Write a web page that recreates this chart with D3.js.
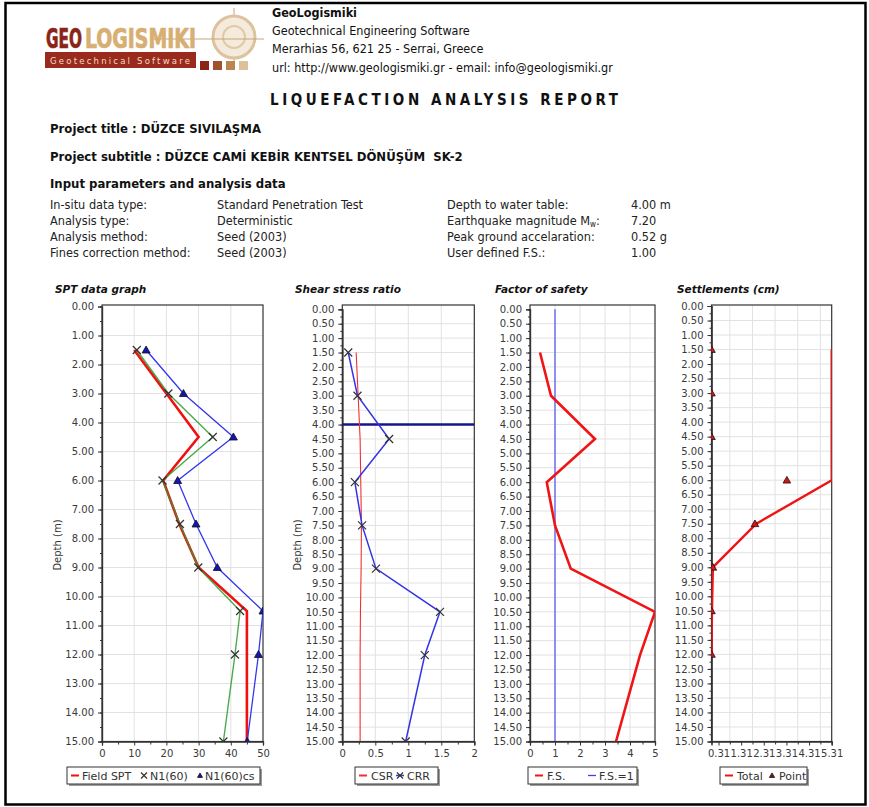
<!DOCTYPE html>
<html>
<head>
<meta charset="utf-8">
<script src="https://cdn.jsdelivr.net/npm/d3@7"></script>
<style>
  html, body { margin: 0; padding: 0; background: #fff; }
  svg { display: block; }
  .tick text { font-family: "DejaVu Sans", Verdana, sans-serif; }
</style>
</head>
<body>
<svg id="page" width="869" height="807"></svg>
<script>
// ---- Borehole SK-2 data ----
const depths = [1.5, 3.0, 4.5, 6.0, 7.5, 9.0, 10.5, 12.0, 15.0];
const fieldSPT = [10, 20, 30, 19, 24, 30, 45, 45, 45];
const n160 = [10.8, 20.6, 34.4, 18.8, 24.2, 29.9, 42.9, 41.3, 37.7];
const n160cs = [13.7, 25.3, 40.8, 23.5, 29.2, 35.8, 50, 48.6, 45.1];

const csr = [0.21, 0.24, 0.27, 0.28, 0.29, 0.285, 0.275, 0.27, 0.27];
const crr = [0.09, 0.23, 0.71, 0.19, 0.30, 0.51, 1.48, 1.25, 0.96];
const waterTable = 4.0;

const factorOfSafety = [0.40, 0.84, 2.60, 0.67, 1.00, 1.63, 5.00, 4.40, 3.44];
const userFS = 1.0;

const settleDepths = [1.5, 3.0, 4.5, 6.0, 7.5, 9.0, 10.5, 12.0];
const settlePoint = [0.0, 0.0, 0.0, 3.33, 1.92, 0.06, 0.0, 0.0];
const settleTotal = [5.31, 5.31, 5.31, 5.31, 1.98, 0.06, 0.02, 0.0];

const sptTicks = [0, 10, 20, 30, 40, 50];
const ratioTicks = [0, 0.5, 1, 1.5, 2];
const fsTicks = [0, 1, 2, 3, 4, 5];
const settleTicks = [0.31, 1.31, 2.31, 3.31, 4.31, 5.31];
const settleGrid = [0.81, 1.81, 2.81, 3.81, 4.81];

const infoLeft = [
  ["In-situ data type:", "Standard Penetration Test"],
  ["Analysis type:", "Deterministic"],
  ["Analysis method:", "Seed (2003)"],
  ["Fines correction method:", "Seed (2003)"]
];
const infoRight = [
  ["Depth to water table:", "4.00 m"],
  ["Earthquake magnitude M", "7.20"],
  ["Peak ground accelaration:", "0.52 g"],
  ["User defined F.S.:", "1.00"]
];

const svg = d3.select("#page");
const FONT = "'DejaVu Sans Condensed', 'DejaVu Sans', sans-serif";
const AXFONT = "'DejaVu Sans', Verdana, sans-serif";

svg.append("rect").attr("width", 869).attr("height", 807).attr("fill", "#fff");
svg.append("rect").attr("x", 5.5).attr("y", 3).attr("width", 860).attr("height", 801.5)
  .attr("fill", "none").attr("stroke", "#000").attr("stroke-width", 2.5);

// ---- Logo ----
const logo = svg.append("g");
logo.append("line").attr("x1", 234).attr("x2", 234).attr("y1", 8).attr("y2", 62)
  .attr("stroke", "#d2b48c").attr("stroke-width", 1.2);
logo.append("circle").attr("cx", 234).attr("cy", 37).attr("r", 21)
  .attr("fill", "#f5ebdc").attr("stroke", "#dcc29e").attr("stroke-width", 3);
logo.append("circle").attr("cx", 234).attr("cy", 37).attr("r", 11)
  .attr("fill", "none").attr("stroke", "#e0c9a8").attr("stroke-width", 2);
logo.append("line").attr("x1", 150).attr("x2", 264).attr("y1", 39).attr("y2", 39)
  .attr("stroke", "#c9a577").attr("stroke-width", 1.2);

// condensed block lettering: squeeze each word horizontally to its slot
function squeezed(word, x, width, color) {
  const g = logo.append("g");
  const t = g.append("text").attr("x", 0).attr("y", 0).text(word)
    .attr("font-family", FONT).attr("font-weight", "bold").attr("font-size", 26)
    .attr("fill", color).attr("stroke", color).attr("stroke-width", 0.7);
  const w = t.node().getComputedTextLength() || width;
  g.attr("transform", `translate(${x},48) scale(${width / w},1)`);
}
squeezed("GEO", 46, 36, "#8b2418");
squeezed("LOGISMIKI", 85, 111, "#d8ae72");

logo.append("rect").attr("x", 45).attr("y", 52).attr("width", 151).attr("height", 16).attr("fill", "#9a2a1b");
logo.append("text").attr("x", 50).attr("y", 64).text("Geotechnical Software")
  .attr("font-family", FONT).attr("font-size", 9.5).attr("fill", "#f2dcc6")
  .attr("textLength", 140).attr("lengthAdjust", "spacing");
["#8b2418", "#a0522d", "#b98552", "#dcc19a"].forEach((c, i) => {
  logo.append("rect").attr("x", 200 + i * 13).attr("y", 61).attr("width", 9).attr("height", 9).attr("fill", c);
});

// ---- Company header ----
const head = [
  ["GeoLogismiki", 17, "bold"],
  ["Geotechnical Engineering Software", 35, "normal"],
  ["Merarhias 56, 621 25 - Serrai, Greece", 53, "normal"],
  ["url: http://www.geologismiki.gr - email: info@geologismiki.gr", 72, "normal"]
];
head.forEach(([t, y, w]) => {
  svg.append("text").attr("x", 272).attr("y", y).text(t)
    .attr("font-family", FONT).attr("font-size", 12.5).attr("font-weight", w).attr("fill", "#111");
});
svg.append("text").attr("x", 270).attr("y", 105).text("LIQUEFACTION ANALYSIS REPORT")
  .attr("font-family", FONT).attr("font-size", 15).attr("font-weight", "bold").attr("fill", "#111")
  .attr("textLength", 348).attr("lengthAdjust", "spacing");

// ---- Project block ----
const bold = (t, y) => svg.append("text").attr("x", 50).attr("y", y).text(t)
  .attr("font-family", FONT).attr("font-size", 13).attr("font-weight", "bold").attr("fill", "#111");
bold("Project title : DÜZCE SIVILAŞMA", 133);
bold("Project subtitle : DÜZCE CAMİ KEBİR KENTSEL DÖNÜŞÜM  SK-2", 161).style("white-space", "pre");
bold("Input parameters and analysis data", 188);

const rowY = [209, 225, 241, 257];
infoLeft.forEach(([a, b], i) => {
  svg.append("text").attr("x", 50).attr("y", rowY[i]).text(a)
    .attr("font-family", FONT).attr("font-size", 12.6).attr("fill", "#222");
  svg.append("text").attr("x", 217).attr("y", rowY[i]).text(b)
    .attr("font-family", FONT).attr("font-size", 12.6).attr("fill", "#222");
});
infoRight.forEach(([a, b], i) => {
  const t = svg.append("text").attr("x", 447).attr("y", rowY[i])
    .attr("font-family", FONT).attr("font-size", 12.6).attr("fill", "#222");
  t.append("tspan").text(a);
  if (i === 1) {
    t.append("tspan").text("w").attr("font-size", 8).attr("dy", 2);
    t.append("tspan").text(":").attr("dy", -2);
  }
  svg.append("text").attr("x", 631).attr("y", rowY[i]).text(b)
    .attr("font-family", FONT).attr("font-size", 12.6).attr("fill", "#222");
});

// ---- Generic depth chart ----
function depthChart(o) {
  const g = svg.append("g");
  const x = d3.scaleLinear().domain(o.xDomain).range([o.left, o.right]);
  const y = d3.scaleLinear().domain([0, 15]).range([o.zeroY, 741.5]);
  const top = 305, bottom = 741.5;
  const clipId = "clip-" + o.id;
  g.append("clipPath").attr("id", clipId).append("rect")
    .attr("x", o.left).attr("y", top).attr("width", o.right - o.left).attr("height", bottom - top);

  g.append("text").attr("x", o.titleX).attr("y", 293).text(o.title)
    .attr("font-family", AXFONT).attr("font-size", 10.5).attr("font-weight", "bold")
    .attr("font-style", "italic").attr("fill", "#111");

  // grid
  const yMajor = d3.range(0, 15 + 1e-9, o.yStep);
  g.append("g").selectAll("line").data(yMajor.filter(d => d > 0 && d < 15)).join("line")
    .attr("x1", o.left).attr("x2", o.right).attr("y1", d => y(d)).attr("y2", d => y(d))
    .attr("stroke", "#e2e2e2").attr("stroke-width", 1);
  g.append("g").selectAll("line").data(o.xGrid).join("line")
    .attr("x1", d => x(d)).attr("x2", d => x(d)).attr("y1", top).attr("y2", bottom)
    .attr("stroke", "#e2e2e2").attr("stroke-width", 1);

  // frame
  g.append("rect").attr("x", o.left).attr("y", top).attr("width", o.right - o.left).attr("height", bottom - top)
    .attr("fill", "none").attr("stroke", "#333").attr("stroke-width", 1.2);

  // axes
  const yAx = g.append("g").attr("transform", `translate(${o.left},0)`)
    .call(d3.axisLeft(y).tickValues(yMajor).tickSize(4).tickFormat(d3.format(".2f")));
  const yMin = g.append("g").attr("transform", `translate(${o.left},0)`)
    .call(d3.axisLeft(y).tickValues(d3.range(0, 15, o.yStep / 2).map(d => d + o.yStep / 2)).tickSize(2).tickFormat(""));
  const xAx = g.append("g").attr("transform", `translate(0,${bottom})`)
    .call(d3.axisBottom(x).tickValues(o.xTicks).tickSize(4).tickFormat(o.xFormat));
  const xMin = g.append("g").attr("transform", `translate(0,${bottom})`)
    .call(d3.axisBottom(x).tickValues(o.xMinor).tickSize(3).tickFormat(""));
  [yAx, yMin, xAx, xMin].forEach(a => {
    a.select(".domain").attr("stroke", "#333").attr("stroke-width", 1.2);
    a.selectAll(".tick line").attr("stroke", "#333");
    a.selectAll(".tick text").attr("font-size", 10).attr("fill", "#3a3a3a");
  });
  yAx.selectAll(".tick text").attr("dx", -1);
  xAx.selectAll(".tick text").attr("dy", "0.85em");

  if (o.depthLabelX) {
    g.append("text").attr("transform", `translate(${o.depthLabelX},545) rotate(-90)`)
      .attr("text-anchor", "middle").text("Depth (m)")
      .attr("font-family", AXFONT).attr("font-size", 10).attr("fill", "#333");
  }
  const plot = g.append("g").attr("clip-path", `url(#${clipId})`);
  return { g, plot, x, y };
}

function xMark(sel, cx, cy, s) {
  sel.append("path").attr("d", `M${cx - s},${cy - s}L${cx + s},${cy + s}M${cx - s},${cy + s}L${cx + s},${cy - s}`)
    .attr("stroke", "#333").attr("stroke-width", 1.2).attr("fill", "none");
}
function tri(sel, cx, cy, s, fill) {
  sel.append("path").attr("d", `M${cx},${cy - s}L${cx + s},${cy + s * 0.75}L${cx - s},${cy + s * 0.75}Z`)
    .attr("fill", fill).attr("stroke", "#111").attr("stroke-width", 0.8);
}
function legendBox(x0, x1) {
  svg.append("rect").attr("x", x0 + 2).attr("y", 769).attr("width", x1 - x0).attr("height", 17).attr("fill", "#9a9a9a");
  svg.append("rect").attr("x", x0).attr("y", 767).attr("width", x1 - x0).attr("height", 17)
    .attr("fill", "#fff").attr("stroke", "#333").attr("stroke-width", 1);
}
function legText(x, t) {
  svg.append("text").attr("x", x).attr("y", 780).text(t)
    .attr("font-family", AXFONT).attr("font-size", 11).attr("fill", "#333");
}
function legDash(x, c) {
  svg.append("line").attr("x1", x).attr("x2", x + 8).attr("y1", 775.5).attr("y2", 775.5)
    .attr("stroke", c).attr("stroke-width", 2);
}

// ---- SPT data graph ----
{
  const c = depthChart({
    id: "spt", left: 102, right: 263, zeroY: 306.5, xDomain: [0, 50],
    xTicks: sptTicks, xMinor: [5, 15, 25, 35, 45], xGrid: [10, 20, 30, 40],
    xFormat: d3.format("d"), yStep: 1, title: "SPT data graph", titleX: 55, depthLabelX: 61
  });
  const line = (vals) => d3.line().x((d, i) => c.x(vals[i])).y(d => c.y(d))(depths);
  c.plot.append("path").attr("d", line(fieldSPT)).attr("fill", "none").attr("stroke", "#f01010").attr("stroke-width", 2.6);
  c.plot.append("path").attr("d", line(n160)).attr("fill", "none").attr("stroke", "#2f9a2f").attr("stroke-width", 1.4).attr("stroke-opacity", 0.85);
  c.plot.append("path").attr("d", line(n160cs)).attr("fill", "none").attr("stroke", "#3535f0").attr("stroke-width", 1.3);
  depths.forEach((d, i) => xMark(c.plot, c.x(n160[i]), c.y(d), 4));
  depths.forEach((d, i) => tri(c.plot, c.x(n160cs[i]), c.y(d), 4, "#1414b4"));
  legendBox(67, 260);
  legDash(71, "#f01010"); legText(82, "Field SPT");
  xMark(svg, 144, 775.5, 3); legText(150, "N1(60)");
  tri(svg, 200, 775.5, 2.5, "#1414b4"); legText(205, "N1(60)cs");
}

// ---- Shear stress ratio ----
{
  const c = depthChart({
    id: "ssr", left: 342.3, right: 474.3, zeroY: 309.3, xDomain: [0, 2],
    xTicks: ratioTicks, xMinor: [0.25, 0.75, 1.25, 1.75], xGrid: [0.5, 1, 1.5],
    xFormat: d => String(d), yStep: 0.5, title: "Shear stress ratio", titleX: 295, depthLabelX: 301
  });
  const line = (vals) => d3.line().x((d, i) => c.x(vals[i])).y(d => c.y(d))(depths);
  c.plot.append("line").attr("x1", c.x(0)).attr("x2", c.x(2)).attr("y1", c.y(waterTable)).attr("y2", c.y(waterTable))
    .attr("stroke", "#16168a").attr("stroke-width", 2.4);
  c.plot.append("path").attr("d", line(csr)).attr("fill", "none").attr("stroke", "#f03030").attr("stroke-width", 1.1);
  c.plot.append("path").attr("d", line(crr)).attr("fill", "none").attr("stroke", "#3434e6").attr("stroke-width", 1.5);
  depths.forEach((d, i) => xMark(c.plot, c.x(crr[i]), c.y(d), 4));
  legendBox(355, 438);
  legDash(359, "#f03030"); legText(371, "CSR");
  svg.append("line").attr("x1", 396).attr("x2", 404).attr("y1", 775.5).attr("y2", 775.5).attr("stroke", "#3434e6").attr("stroke-width", 1.5);
  xMark(svg, 400, 775.5, 3); legText(407, "CRR");
}

// ---- Factor of safety ----
{
  const c = depthChart({
    id: "fs", left: 530, right: 655, zeroY: 309.3, xDomain: [0, 5],
    xTicks: fsTicks, xMinor: [0.5, 1.5, 2.5, 3.5, 4.5], xGrid: [1, 2, 3, 4],
    xFormat: d3.format("d"), yStep: 0.5, title: "Factor of safety", titleX: 495, depthLabelX: null
  });
  c.plot.append("line").attr("x1", c.x(userFS)).attr("x2", c.x(userFS)).attr("y1", c.y(0)).attr("y2", c.y(15))
    .attr("stroke", "#4040f0").attr("stroke-width", 1.1);
  c.plot.append("path").attr("d", d3.line().x((d, i) => c.x(factorOfSafety[i])).y(d => c.y(d))(depths))
    .attr("fill", "none").attr("stroke", "#f01414").attr("stroke-width", 2.6);
  legendBox(528, 637);
  legDash(535, "#f01414"); legText(547, "F.S.");
  svg.append("line").attr("x1", 588).attr("x2", 596).attr("y1", 775.5).attr("y2", 775.5).attr("stroke", "#4040f0").attr("stroke-width", 1.3);
  legText(599, "F.S.=1");
}

// ---- Settlements ----
{
  const c = depthChart({
    id: "set", left: 711.5, right: 831.7, zeroY: 306, xDomain: [0, 5.31],
    xTicks: settleTicks, xMinor: [0.81, 1.81, 2.81, 3.81, 4.81], xGrid: settleGrid,
    xFormat: d3.format(".2f"), yStep: 0.5, title: "Settlements (cm)", titleX: 677, depthLabelX: null
  });
  c.plot.append("path").attr("d", d3.line().x((d, i) => c.x(settleTotal[i])).y(d => c.y(d))(settleDepths))
    .attr("fill", "none").attr("stroke", "#ee1414").attr("stroke-width", 2.4);
  settleDepths.forEach((d, i) => tri(c.plot, c.x(settlePoint[i]), c.y(d), 3.8, "#e01010"));
  legendBox(720, 807);
  legDash(725, "#ee1414"); legText(737, "Total");
  tri(svg, 772, 775.5, 2.6, "#8b1010"); legText(779, "Point");
}
</script>
</body>
</html>
